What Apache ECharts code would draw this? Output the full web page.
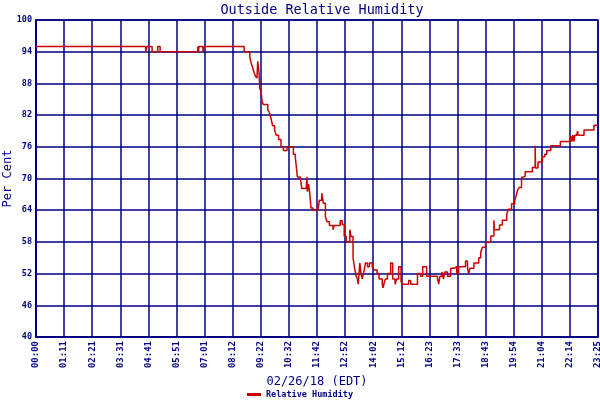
<!DOCTYPE html>
<html>
<head>
  <meta charset="utf-8">
  <title>Outside Relative Humidity</title>
  <script src="https://cdn.jsdelivr.net/npm/echarts@6/dist/echarts.min.js"></script>
  <style>
    html, body { margin: 0; padding: 0; background: #fff; }
  </style>
</head>
<body>
  <div id="main" style="width:600px;height:400px;"></div>
  <script type="text/javascript">
    // tick labels along the time axis (one every ~70 minutes)
    var tickLabels = ['00:00', '01:11', '02:21', '03:31', '04:41', '05:51', '07:01', '08:12',
      '09:22', '10:32', '11:42', '12:52', '14:02', '15:12', '16:23', '17:33', '18:43',
      '19:54', '21:04', '22:14', '23:25'];
    var minutesPerTick = 70.2;

    // humidity readings: minutes after midnight, per cent
    var minutes = [0, 274, 277, 290, 304, 310, 404, 406, 407, 417, 420, 520, 534, 537, 541,
      545, 548, 552, 554, 557, 559, 562, 565, 568, 579, 583, 587, 591, 596, 600,
      606, 612, 618, 627, 643, 648, 650, 653, 660, 664, 675, 677, 678, 681, 684,
      687, 692, 704, 706, 708, 714, 718, 723, 727, 733, 742, 745, 760, 765, 770,
      775, 784, 787, 792, 796, 800, 803, 805, 809, 812, 815, 819, 823, 828, 833,
      840, 844, 852, 857, 865, 867, 870, 873, 878, 886, 891, 897, 901, 906, 912,
      916, 931, 936, 953, 961, 966, 976, 1003, 1006, 1009, 1014, 1018, 1021, 1028, 1036,
      1045, 1051, 1056, 1073, 1078, 1081, 1084, 1094, 1106, 1111, 1115, 1123, 1136, 1144,
      1145, 1158, 1165, 1176, 1180, 1188, 1196, 1199, 1203, 1207, 1213, 1215, 1222, 1240,
      1247, 1248, 1254, 1265, 1271, 1276, 1286, 1310, 1336, 1339, 1341, 1344, 1346, 1351,
      1353, 1354, 1369, 1394, 1404];
    var humidity = [95, 94, 95, 94, 95, 94, 95, 94, 95, 94, 95, 94, 93, 92, 91,
      90, 89.4, 89, 92.2, 90.2, 87, 86.6, 84.5, 84, 83, 82.5, 81.4, 80, 79.2, 78.2,
      77.4, 76, 75.3, 76, 74.6, 73.8, 72.5, 70.3, 70, 68.1, 68, 70.3, 67.5, 69, 67.1,
      64.4, 64, 63.8, 64.8, 65.9, 67.2, 65.3, 62.7, 61.8, 61.1, 60.3, 61.1, 62, 61.3, 59,
      58, 60.3, 59, 55, 53, 51.5, 51, 50, 54, 52, 51, 52.3, 54, 53.3, 54,
      53.3, 52.7, 52, 51, 50, 49.3, 50.3, 51, 52, 54, 51, 50, 51, 53.3, 50.5,
      50, 50.7, 50, 52, 51.5, 53.3, 51.5, 51, 50, 51.5, 52.3, 51, 52.3, 51.5, 53,
      53.3, 52, 53.3, 54.4, 53, 52, 53, 54, 55, 56, 57, 58, 59.1, 62.1,
      60.3, 61.2, 62.1, 63.3, 64.2, 65.2, 65.9, 66.6, 67.8, 68.3, 70.2, 70.4, 71.3, 72.1,
      76.2, 72, 73.1, 74.1, 74.6, 75.3, 76.2, 77, 78, 77, 78.2, 77, 78.2, 78.5,
      79, 78.2, 79.2, 80.1, 80.1];

    var navy = '#000080';
    var mono = 'DejaVu Sans Mono';

    var points = minutes.map(function (m, i) {
      return [m / minutesPerTick, humidity[i]];
    });

    var myChart = echarts.init(document.getElementById('main'));
    var option = {
      animation: false,
      backgroundColor: '#fff',
      title: {
        text: 'Outside Relative Humidity',
        left: 317,
        top: -2,
        textAlign: 'center',
        textStyle: { color: navy, fontFamily: mono, fontSize: 13.5, fontWeight: 'normal' }
      },
      legend: {
        data: ['Relative Humidity'],
        top: 390,
        left: 'center',
        itemWidth: 14,
        itemHeight: 3,
        itemGap: 4,
        icon: 'rect',
        padding: 0,
        textStyle: { color: navy, fontFamily: mono, fontSize: 8.5, fontWeight: 'bold' }
      },
      grid: {
        left: 36, right: 2, top: 20, bottom: 63,
        containLabel: false,
        outerBoundsMode: 'none',
        show: true, borderColor: navy, borderWidth: 1.5
      },
      xAxis: {
        type: 'value',
        min: 0,
        max: 20,
        interval: 1,
        name: '02/26/18 (EDT)',
        nameLocation: 'middle',
        nameGap: 36,
        nameTextStyle: { color: navy, fontFamily: mono, fontSize: 12 },
        axisLine: { lineStyle: { color: navy, width: 1.5 } },
        axisTick: { show: false },
        splitLine: { lineStyle: { color: navy, width: 1.5 } },
        axisLabel: {
          rotate: 90,
          margin: 4,
          color: navy,
          fontFamily: mono,
          fontSize: 9,
          fontWeight: 'bold',
          formatter: function (v) { return tickLabels[Math.round(v)]; }
        }
      },
      yAxis: {
        type: 'value',
        min: 40,
        max: 100,
        interval: 6,
        name: 'Per Cent',
        nameLocation: 'middle',
        nameGap: 22,
        nameMoveOverlap: false,
        nameTextStyle: { color: navy, fontFamily: mono, fontSize: 12 },
        axisLine: { show: true, lineStyle: { color: navy, width: 1.5 } },
        axisTick: { show: false },
        splitLine: { lineStyle: { color: navy, width: 1.5 } },
        axisLabel: { color: navy, fontFamily: mono, fontSize: 8.5, fontWeight: 'bold', margin: 4 }
      },
      series: [{
        name: 'Relative Humidity',
        type: 'line',
        step: 'end',
        showSymbol: false,
        data: points,
        lineStyle: { color: '#cc0000', width: 1.5 },
        itemStyle: { color: '#cc0000' }
      }]
    };
    myChart.setOption(option);
  </script>
</body>
</html>
